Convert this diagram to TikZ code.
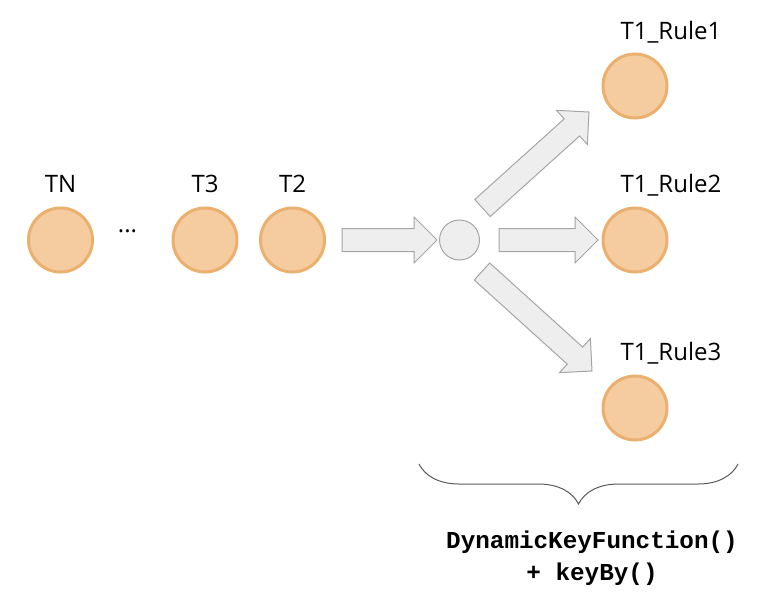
\documentclass[tikz,border=0pt]{standalone}
\usepackage{fontspec}
\setmainfont{Open Sans}
\newfontfamily\codefont{Liberation Mono}
\usetikzlibrary{shapes.geometric, calc, decorations.pathreplacing, positioning}
\usepackage{xcolor}
\definecolor{peach}{RGB}{244,204,160}
\definecolor{peachline}{RGB}{236,176,110}
\definecolor{arrowfill}{RGB}{238,238,238}
\definecolor{arrowline}{RGB}{165,165,165}
\tikzstyle{token} = [circle, 
minimum size=64pt, 
inner sep=0pt, 
line width=3pt, 
draw=peachline, 
fill=peach]
\tikzstyle{hub} = [circle, 
minimum size=40pt, 
inner sep=0pt, 
line width=1pt, 
draw=arrowline, 
fill=arrowfill]
\tikzstyle{tag} = [anchor=base, 
inner sep=0pt, 
font=\fontsize{24}{28}\selectfont]
\tikzstyle{fat} = [line width=1pt, 
draw=arrowline, 
fill=arrowfill, 
line join=miter,
to path={let \p1=($(\tikztotarget)!23pt!(\tikztostart)$) in
 ($(\tikztostart)!11.5pt!90:(\tikztotarget)$) -- ($(\p1)!11.5pt!90:(\tikztotarget)$)
 -- ($(\p1)!23pt!90:(\tikztotarget)$) -- (\tikztotarget)
 -- ($(\p1)!23pt!-90:(\tikztotarget)$) -- ($(\p1)!11.5pt!-90:(\tikztotarget)$)
 -- ($(\tikztostart)!11.5pt!-90:(\tikztotarget)$) -- cycle}]
\tikzstyle{brace} = [decorate, 
decoration={brace, mirror, amplitude=40pt}, 
line width=1pt, 
draw=black!65]

\begin{document}
\begin{tikzpicture}[x=1pt, y=-1pt]
	\useasboundingbox (0,0) rectangle (758,592);
	
	% incoming stream
	\node (tn) [token] at (60.5,240) {};
	\node (t3) [token] at (205,240) {};
	\node (t2) [token] at (292.5,240) {};
	\node (tnl) [tag] at (60.5,192) {TN};
	\node (t3l) [tag] at (205,192) {T3};
	\node (t2l) [tag] at (292.5,192) {T2};
	\node (dots) [tag] at (127.5,232) {...};
	
	\node (hub) [hub] at (459.5,240) {};
	
	% outgoing rules
	\node (r1) [token] at (635,86) {};
	\node (r2) [token] at (635,240) {};
	\node (r3) [token] at (635,408) {};
	\node (r1l) [tag] at (671,39) {T1\_Rule1};
	\node (r2l) [tag] at (671,192) {T1\_Rule2};
	\node (r3l) [tag] at (671,360) {T1\_Rule3};
	
	\coordinate (in0) at (342,240);
	\coordinate (in1) at (437,240);
	\coordinate (mid0) at (499,240);
	\coordinate (mid1) at (598,240);
	\coordinate (up0) at (482.5,208);
	\coordinate (up1) at (589,112);
	\coordinate (dn0) at (482,271.5);
	\coordinate (dn1) at (592,371);
	
	\draw [fat] (in0) to (in1);
	\draw [fat] (mid0) to (mid1);
	\draw [fat] (up0) to (up1);
	\draw [fat] (dn0) to (dn1);
	
	\coordinate (br0) at (419,464);
	\coordinate (br1) at (738,464);
	\draw [brace] (br0) -- (br1);
	% base is the last line here
	\node (keyfn) [anchor=base, inner sep=0pt, align=center, font=\codefont\bfseries\fontsize{24.3}{32}\selectfont] at (592,580) {DynamicKeyFunction()\\+ keyBy()};
	
\end{tikzpicture}
\end{document}
